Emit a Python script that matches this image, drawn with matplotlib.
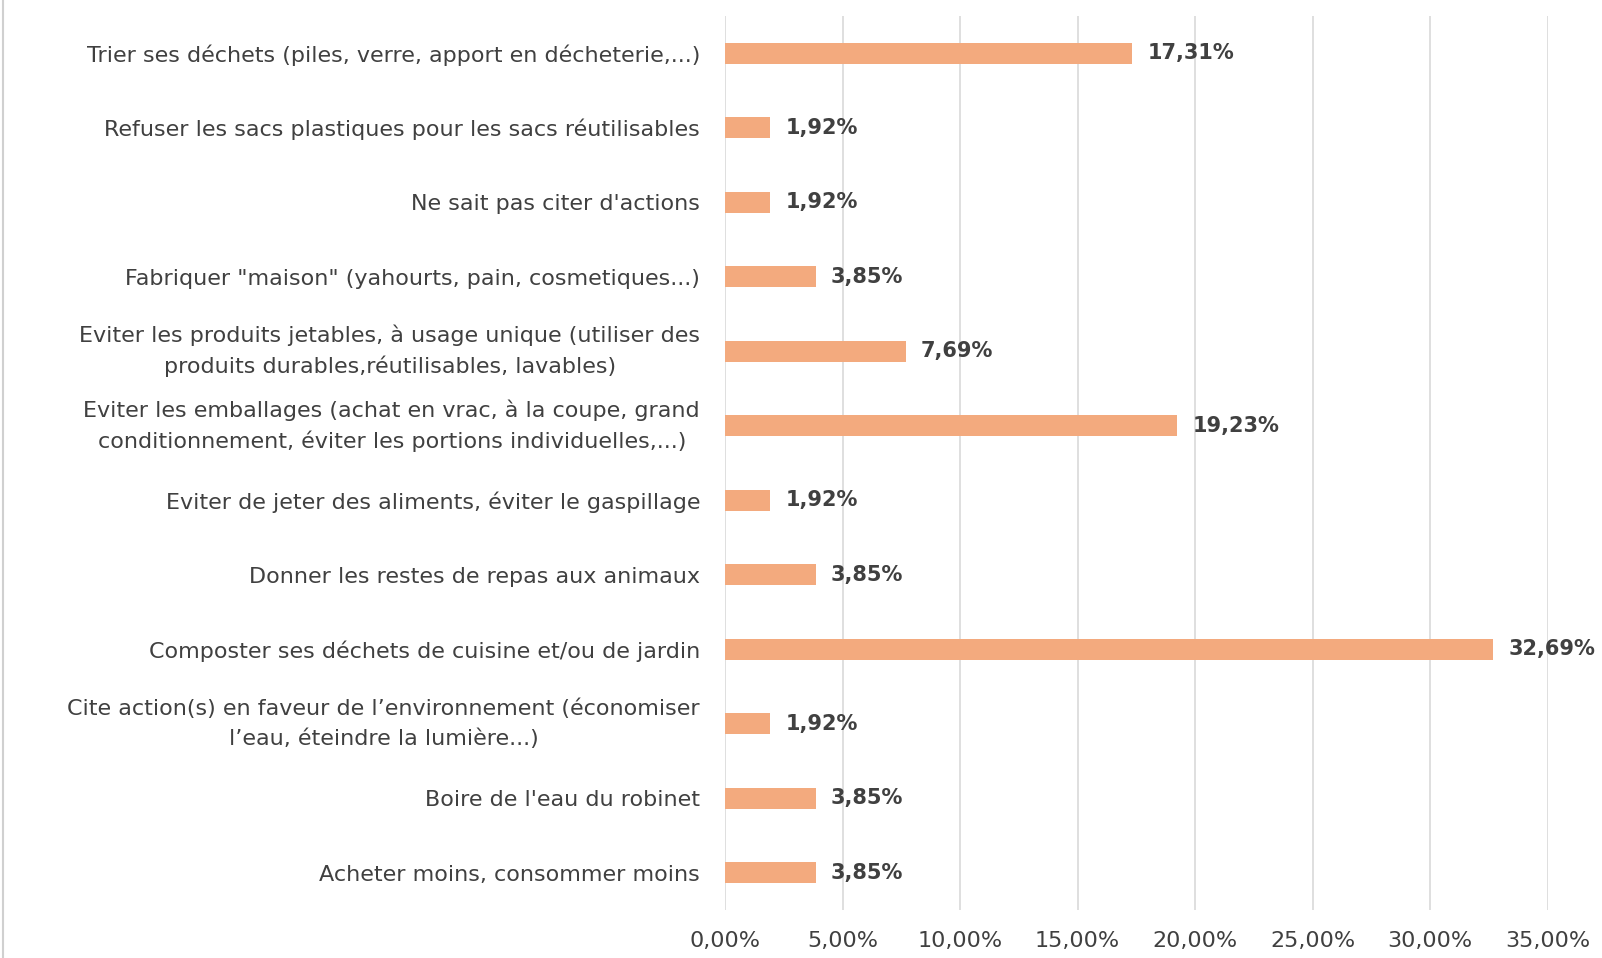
import matplotlib.pyplot as plt
from matplotlib.ticker import FuncFormatter, MultipleLocator
from matplotlib.lines import Line2D

plt.rcParams['font.family'] = ['DejaVu Sans']

# Categories, top to bottom as displayed
actions = [
    "Trier ses déchets (piles, verre, apport en décheterie,...)",
    "Refuser les sacs plastiques pour les sacs réutilisables",
    "Ne sait pas citer d'actions",
    "Fabriquer \"maison\" (yahourts, pain, cosmetiques...)",
    "Eviter les produits jetables, à usage unique (utiliser des\nproduits durables,réutilisables, lavables)",
    "Eviter les emballages (achat en vrac, à la coupe, grand\nconditionnement, éviter les portions individuelles,...)",
    "Eviter de jeter des aliments, éviter le gaspillage",
    "Donner les restes de repas aux animaux",
    "Composter ses déchets de cuisine et/ou de jardin",
    "Cite action(s) en faveur de l’environnement (économiser\nl’eau, éteindre la lumière...)",
    "Boire de l'eau du robinet",
    "Acheter moins, consommer moins",
]
shares = [17.31, 1.92, 1.92, 3.85, 7.69, 19.23, 1.92, 3.85, 32.69, 1.92, 3.85, 3.85]

bar_color = '#F3AA7E'
text_color = '#404040'

fig = plt.figure(figsize=(16.02, 9.58), dpi=100)
ax = fig.add_axes([0.4526, 0.050, 0.5135, 0.9335])

ypos = list(range(len(actions)))
ax.barh(ypos, shares, height=0.28, color=bar_color, zorder=3)

for y, v in zip(ypos, shares):
    ax.annotate(f"{v:.2f}".replace('.', ',') + '%', (v, y), xytext=(11, 0),
                textcoords='offset points', va='center', ha='left',
                fontsize=15, fontweight='bold', color=text_color)

ax.set_xlim(0, 35)
ax.set_ylim(len(actions) - 0.5, -0.5)
ax.xaxis.set_major_locator(MultipleLocator(5))
ax.xaxis.set_major_formatter(FuncFormatter(lambda x, p: f"{x:.2f}".replace('.', ',') + '%'))
ax.set_yticks(ypos)
ax.set_yticklabels(actions)
for t in ax.get_yticklabels():
    t.set_multialignment('center')
    t.set_linespacing(1.55)
    if '\n' in t.get_text():
        t.set_verticalalignment('center')

ax.tick_params(axis='y', length=0, pad=18, labelsize=16, labelcolor=text_color)
ax.tick_params(axis='x', length=0, pad=15, labelsize=16, labelcolor=text_color)
ax.grid(axis='x', color='#D9D9D9', linewidth=1.2, zorder=0)
for s in ax.spines.values():
    s.set_visible(False)

# thin chart border on the left edge
fig.add_artist(Line2D([0.002, 0.002], [0, 1], transform=fig.transFigure,
                      color='#D0D0D0', linewidth=1.5))

plt.savefig('out.png', dpi=100)
